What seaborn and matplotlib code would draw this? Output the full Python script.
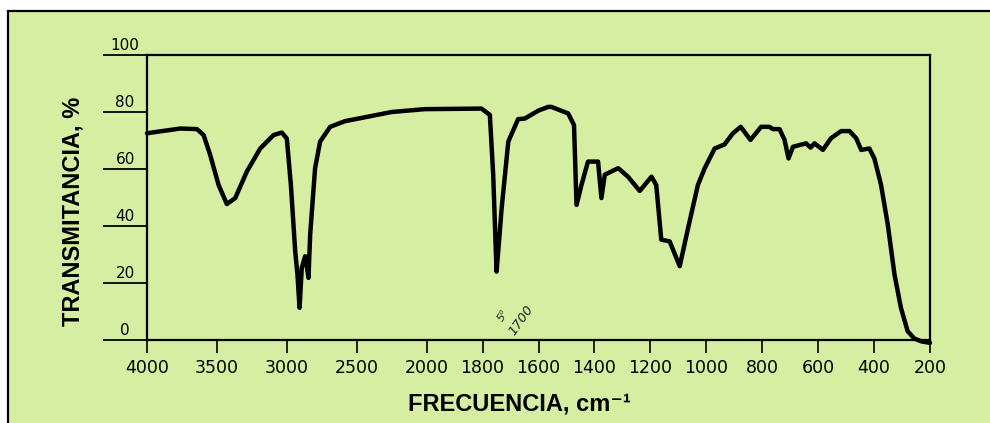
import numpy as np
import pandas as pd
import matplotlib
matplotlib.use("Agg")
import matplotlib.pyplot as plt
from matplotlib.patches import Rectangle
import seaborn as sns

# ---- data ----
wavenumber = [4000, 3964, 3762, 3643, 3595, 3548, 3488, 3429, 3369, 3286, 3190, 3095, 3036, 3000,
              2971, 2940, 2924, 2909, 2893, 2869, 2845, 2833, 2798, 2762, 2690, 2583, 2488,
              2250, 2014, 1804, 1774, 1762, 1750, 1740, 1732, 1708, 1673, 1649, 1600, 1565,
              1554, 1494, 1473, 1464, 1446, 1423, 1387, 1375, 1363, 1315, 1280, 1238, 1196,
              1179, 1161, 1131, 1095, 1065, 1030, 1006, 970, 935, 905, 877, 842, 804, 774,
              762, 738, 720, 706, 690, 643, 627, 613, 583, 554, 518, 488, 464, 446, 417,
              399, 375, 351, 327, 304, 280, 256, 230, 200]
transmittance = [72.5, 72.8, 74.2, 74.0, 71.9, 64.9, 54.4, 47.7, 49.8, 59.1, 67.2, 71.9, 72.8, 70.7,
                 54.4, 31.1, 23.0, 11.3, 25.3, 29.4, 21.8, 37.0, 60.2, 69.6, 74.8, 76.8, 77.7,
                 80.0, 81.0, 81.2, 79.0, 58.0, 24.0, 36.0, 46.0, 69.6, 77.5, 77.7, 80.5, 81.8,
                 81.8, 79.5, 75.4, 47.4, 54.5, 62.6, 62.6, 49.8, 58.0, 60.3, 57.3, 52.3, 57.3,
                 54.4, 35.2, 34.6, 25.9, 39.3, 54.4, 60.2, 67.2, 68.6, 72.5, 74.8, 70.2, 74.8, 74.8,
                 74.0, 74.0, 70.2, 63.7, 67.8, 69.0, 67.5, 69.0, 66.7, 70.8, 73.3, 73.3, 70.8, 66.7, 67.2,
                 63.7, 54.4, 40.5, 23.0, 11.3, 3.1, 0.5, -0.5, -1.0]
x_ticks = [4000, 3500, 3000, 2500, 2000, 1800, 1600, 1400, 1200, 1000, 800, 600, 400, 200]
y_ticks = [0, 20, 40, 60, 80, 100]

df = pd.DataFrame({"wn": wavenumber, "T": transmittance})

GREEN = "#d5eea2"

sns.set_style("white")
plt.rcParams["font.family"] = ["DejaVu Sans"]
plt.rcParams["text.color"] = "black"
plt.rcParams["axes.labelcolor"] = "black"

fig = plt.figure(figsize=(9.9, 4.23), dpi=100, facecolor="white")
# outer scanned sheet with black border
fig.patches.append(Rectangle((8 / 990, -0.1), 1.2, (423 - 11) / 423 + 0.1,
                             transform=fig.transFigure, facecolor=GREEN,
                             edgecolor="black", lw=1.6, zorder=-10))

L, R, T_, B = 147, 930, 55, 340
ax = fig.add_axes([L / 990, 1 - B / 423, (R - L) / 990, (B - T_) / 423])
ax.set_facecolor(GREEN)
ax.set_zorder(5)


def fwd(x):
    x = np.asarray(x, dtype=float)
    return np.where(x <= 2000, 2 * x, x + 2000)


def inv(u):
    u = np.asarray(u, dtype=float)
    return np.where(u <= 4000, u / 2, u - 2000)


ax.set_xscale("function", functions=(fwd, inv))

sns.lineplot(data=df, x="wn", y="T", sort=False, estimator=None, ax=ax,
             color="black", lw=3.2, solid_joinstyle="round", solid_capstyle="round")
for line in ax.lines:
    line.set_clip_on(False)

ax.set_xlim(4000, 200)
ax.set_ylim(0, 100)

for s in ax.spines.values():
    s.set_color("black")
    s.set_linewidth(1.6)

ax.set_xticks(x_ticks)
ax.set_xticklabels([str(v) for v in x_ticks])
ax.tick_params(axis="x", direction="out", length=9, width=1.2, pad=5,
               labelsize=12.5, colors="black", bottom=True)

ax.set_yticks(y_ticks)
ax.set_yticklabels([])
ax.tick_params(axis="y", direction="out", length=32, width=1.3, left=True, colors="black")
for v in y_ticks:
    ax.text(-0.028, v + 0.8, str(v), transform=ax.get_yaxis_transform(),
            ha="center", va="bottom", fontsize=11, color="black")

ax.set_xlabel("FRECUENCIA, cm⁻¹", fontsize=17, fontweight="bold", color="black",
              family=["Liberation Sans", "DejaVu Sans"])
ax.xaxis.set_label_coords(0.476, -0.183)
ax.set_ylabel("TRANSMITANCIA, %", fontsize=17, fontweight="bold", color="black",
              family=["Liberation Sans", "DejaVu Sans"])
ax.yaxis.set_label_coords(-0.08, 0.45)

# handwritten marks near 1700
ax.text(0.446, 0.065, "5⁰", transform=ax.transAxes, fontsize=8, rotation=60,
        style="italic", color="#222222")
ax.text(0.459, 0.02, "1700", transform=ax.transAxes, fontsize=9.5, rotation=55,
        style="italic", color="#222222")

fig.savefig("out.png", dpi=100, facecolor="white")
